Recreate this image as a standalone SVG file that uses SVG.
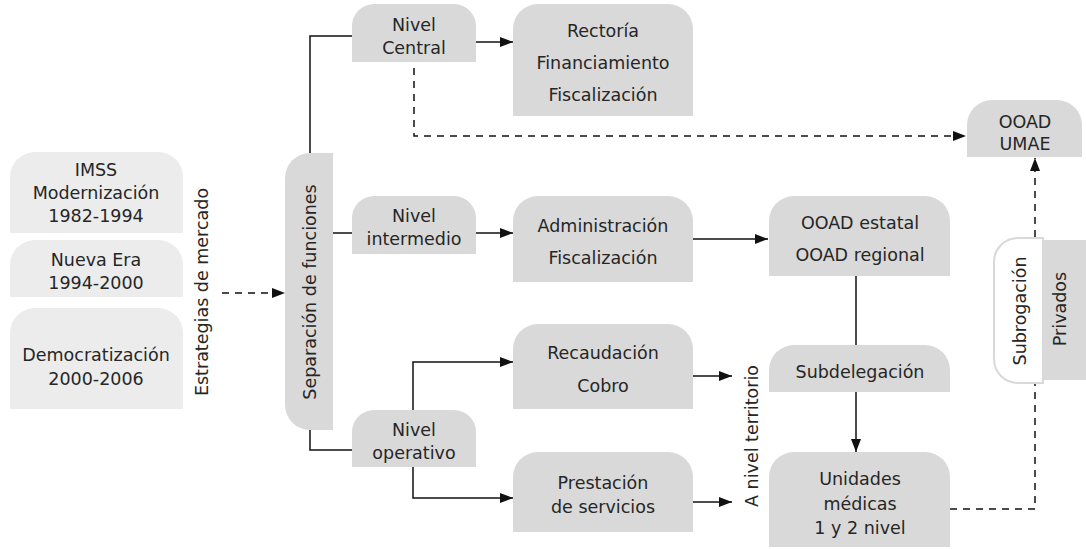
<svg xmlns="http://www.w3.org/2000/svg" width="1086" height="549" viewBox="0 0 1086 549">
<style>
.bx{fill:#d9d9d9}
.lt{fill:#ececec}
.t{font-family:"DejaVu Sans","Open Sans",sans-serif;font-size:17.5px;fill:#262626;text-anchor:middle;dominant-baseline:central}
.ln{fill:none;stroke:#111;stroke-width:1.5}
.ds{fill:none;stroke:#111;stroke-width:1.5;stroke-dasharray:7 6}
</style>
<defs>
<marker id="ah" markerWidth="13" markerHeight="10" refX="13" refY="5" orient="auto" markerUnits="userSpaceOnUse">
<path d="M0,0 L13,5 L0,10 Z" fill="#111"/>
</marker>
</defs>
<rect width="1086" height="549" fill="#fff"/>

<g id="connectors">
<path class="ds" d="M222,293 H285" marker-end="url(#ah)"/>
<path class="ln" d="M310,153 V36 H352"/>
<path class="ln" d="M310,430 V450 H352"/>
<path class="ln" d="M333,233 H352"/>
<path class="ln" d="M476,42 H513" marker-end="url(#ah)"/>
<path class="ds" d="M414,68 V136 H966" marker-end="url(#ah)"/>
<path class="ln" d="M476,233 H513" marker-end="url(#ah)"/>
<path class="ln" d="M693,239 H768" marker-end="url(#ah)"/>
<path class="ln" d="M856,276 V345"/>
<path class="ln" d="M856,392 V452" marker-end="url(#ah)"/>
<path class="ln" d="M413,410 V362 H513" marker-end="url(#ah)"/>
<path class="ln" d="M413,467 V498 H513" marker-end="url(#ah)"/>
<path class="ln" d="M693,376 H732" marker-end="url(#ah)"/>
<path class="ln" d="M693,502 H732" marker-end="url(#ah)"/>
<path class="ds" d="M950,509 H1035 V383"/>
<path class="ds" d="M1035,237 V158" marker-end="url(#ah)"/>
</g>

<g id="imss">
<path class="lt" d="M10,233 V177 A25,25 0 0 1 35,152 H158 A25,25 0 0 1 183,177 V233 Z"/>
<text class="t" x="96" y="170">IMSS</text>
<text class="t" x="96" y="193">Modernización</text>
<text class="t" x="96" y="216">1982-1994</text>
</g>
<g id="nuevaera">
<path class="lt" d="M10,297 V265 A25,25 0 0 1 35,240 H158 A25,25 0 0 1 183,265 V297 Z"/>
<text class="t" x="96" y="260">Nueva Era</text>
<text class="t" x="96" y="283">1994-2000</text>
</g>
<g id="democratizacion">
<path class="lt" d="M10,409 V333 A25,25 0 0 1 35,308 H158 A25,25 0 0 1 183,333 V409 Z"/>
<text class="t" x="96" y="355">Democratización</text>
<text class="t" x="96" y="379">2000-2006</text>
</g>
<g id="estrategias">
<text class="t" transform="translate(202,292) rotate(-90)">Estrategias de mercado</text>
</g>
<g id="separacion">
<path class="bx" d="M333,153 V430 H310 A25,25 0 0 1 285,405 V178 A25,25 0 0 1 310,153 Z"/>
<text class="t" transform="translate(310,292) rotate(-90)">Separación de funciones</text>
</g>
<g id="nivelcentral">
<path class="bx" d="M352,62 V26 A22,22 0 0 1 374,4 H454 A22,22 0 0 1 476,26 V62 Z"/>
<text class="t" x="414" y="25">Nivel</text>
<text class="t" x="414" y="48">Central</text>
</g>
<g id="rectoria">
<path class="bx" d="M513,116 V29 A25,25 0 0 1 538,4 H668 A25,25 0 0 1 693,29 V116 Z"/>
<text class="t" x="603" y="31">Rectoría</text>
<text class="t" x="603" y="63">Financiamiento</text>
<text class="t" x="603" y="95">Fiscalización</text>
</g>
<g id="ooadumae">
<path class="bx" d="M967,157 V125 A25,25 0 0 1 992,100 H1057 A25,25 0 0 1 1082,125 V157 Z"/>
<text class="t" x="1025" y="122">OOAD</text>
<text class="t" x="1025" y="144">UMAE</text>
</g>
<g id="nivelintermedio">
<path class="bx" d="M352,254 V218 A22,22 0 0 1 374,196 H454 A22,22 0 0 1 476,218 V254 Z"/>
<text class="t" x="414" y="216">Nivel</text>
<text class="t" x="414" y="239">intermedio</text>
</g>
<g id="administracion">
<path class="bx" d="M513,282 V221 A25,25 0 0 1 538,196 H668 A25,25 0 0 1 693,221 V282 Z"/>
<text class="t" x="603" y="226">Administración</text>
<text class="t" x="603" y="258">Fiscalización</text>
</g>
<g id="ooadestatal">
<path class="bx" d="M769,276 V221 A25,25 0 0 1 794,196 H925 A25,25 0 0 1 950,221 V276 Z"/>
<text class="t" x="860" y="223">OOAD estatal</text>
<text class="t" x="860" y="255">OOAD regional</text>
</g>
<g id="subdelegacion">
<path class="bx" d="M769,392 V370 A25,25 0 0 1 794,345 H925 A25,25 0 0 1 950,370 V392 Z"/>
<text class="t" x="860" y="372">Subdelegación</text>
</g>
<g id="unidades">
<path class="bx" d="M769,547 V477 A25,25 0 0 1 794,452 H925 A25,25 0 0 1 950,477 V547 Z"/>
<text class="t" x="860" y="479">Unidades</text>
<text class="t" x="860" y="504">médicas</text>
<text class="t" x="860" y="528">1 y 2 nivel</text>
</g>
<g id="recaudacion">
<path class="bx" d="M513,409 V349 A25,25 0 0 1 538,324 H668 A25,25 0 0 1 693,349 V409 Z"/>
<text class="t" x="603" y="353">Recaudación</text>
<text class="t" x="603" y="386">Cobro</text>
</g>
<g id="niveloperativo">
<path class="bx" d="M352,467 V432 A22,22 0 0 1 374,410 H454 A22,22 0 0 1 476,432 V467 Z"/>
<text class="t" x="414" y="430">Nivel</text>
<text class="t" x="414" y="453">operativo</text>
</g>
<g id="prestacion">
<path class="bx" d="M513,532 V477 A25,25 0 0 1 538,452 H668 A25,25 0 0 1 693,477 V532 Z"/>
<text class="t" x="603" y="483">Prestación</text>
<text class="t" x="603" y="507">de servicios</text>
</g>
<g id="territorio">
<text class="t" transform="translate(752,436) rotate(-90)">A nivel territorio</text>
</g>
<g id="privados">
<path class="bx" d="M1043,240 H1086 V380 H1043 A10,10 0 0 1 1033,370 V250 A10,10 0 0 1 1043,240 Z"/>
<text class="t" transform="translate(1060,309) rotate(-90)">Privados</text>
</g>
<g id="subrogacion">
<path d="M1043,238 V383 H1018 A24,24 0 0 1 994,359 V262 A24,24 0 0 1 1018,238 Z" fill="#fff" stroke="#d9d9d9" stroke-width="2"/>
<text class="t" transform="translate(1020,311) rotate(-90)">Subrogación</text>
</g>
</svg>
